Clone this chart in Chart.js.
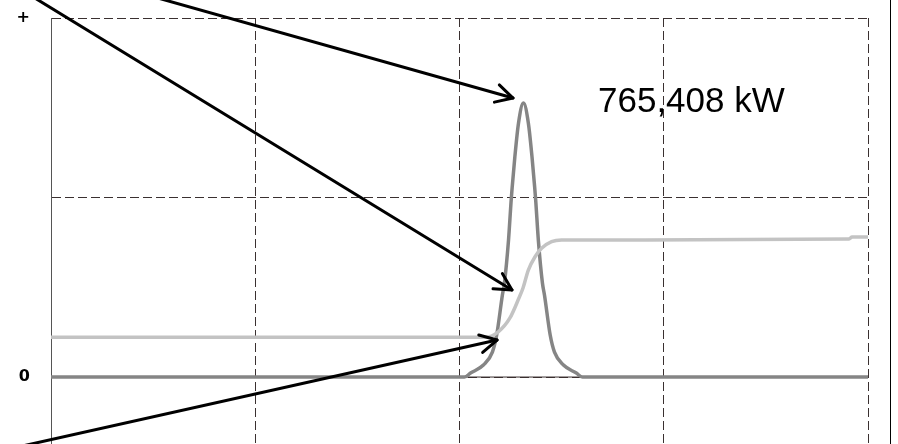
<!DOCTYPE html>
<html>
<head>
<meta charset="utf-8">
<script src="https://cdn.jsdelivr.net/npm/chart.js@4"></script>
<style>
  html, body { margin: 0; padding: 0; background: #fff; }
  #wrap { position: relative; width: 898px; height: 444px; }
</style>
</head>
<body>
<div id="wrap"><canvas id="myChart"></canvas></div>
<script>
// power pulse (dark grey) - baseline, peak, baseline
const pulseX = [0, 2.024, 2.054, 2.117, 2.161, 2.182, 2.210, 2.220, 2.240, 2.253, 2.258, 2.271, 2.289, 2.313,
                2.337, 2.355, 2.368, 2.373, 2.386, 2.406, 2.416, 2.444, 2.465, 2.509, 2.572, 2.602, 4];
const pulseY = [0, 0, 0.022, 0.067, 0.139, 0.234, 0.457, 0.524, 0.763, 0.986, 1.058, 1.226, 1.415, 1.526,
                1.415, 1.226, 1.058, 0.986, 0.763, 0.524, 0.457, 0.234, 0.139, 0.067, 0.022, 0, 0];

// step curve (light grey)
const stepX = [0, 2.125, 2.190, 2.247, 2.291, 2.311, 2.337, 2.370, 2.402, 2.451, 2.500, 3.907, 3.922, 4];
const stepY = [0.222, 0.221, 0.252, 0.329, 0.440, 0.496, 0.596, 0.670, 0.717, 0.754, 0.763, 0.769, 0.780, 0.780];

const zeroX = [0, 4];
const zeroY = [0, 0];

const yTicks = [0, 1, 2];
const yLabels = ["0", "", "+"];

// annotation arrows (data units)
const arrowTipX = [2.262, 2.257, 2.184];
const arrowTipY = [1.554, 0.485, 0.206];
const arrowTailX = [0.240, -0.152, -0.250];
const arrowTailY = [2.202, 2.162, -0.412];

const peakLabel = "765,408 kW";
const labelX = 2.678;
const labelY = 1.478;

const toPts = (xs, ys) => xs.map((v, i) => ({ x: v, y: ys[i] }));

const noPad = (scale) => {
    scale.paddingTop = 0;
    scale.paddingBottom = 0;
    scale.paddingLeft = 0;
    scale.paddingRight = 0;
};

const notes = {
    id: "notes",
    afterDatasetsDraw(chart) {
        const { ctx, scales: { x, y } } = chart;
        ctx.save();
        ctx.strokeStyle = "#000";
        ctx.lineWidth = 3;
        ctx.lineCap = "round";
        ctx.lineJoin = "round";
        arrowTipX.forEach((tx, i) => {
            const x2 = x.getPixelForValue(tx), y2 = y.getPixelForValue(arrowTipY[i]);
            const x1 = x.getPixelForValue(arrowTailX[i]), y1 = y.getPixelForValue(arrowTailY[i]);
            ctx.beginPath();
            ctx.moveTo(x1, y1);
            ctx.lineTo(x2, y2);
            ctx.stroke();
            const a = Math.atan2(y1 - y2, x1 - x2);
            ctx.beginPath();
            ctx.moveTo(x2 + 19 * Math.cos(a - 0.49), y2 + 19 * Math.sin(a - 0.49));
            ctx.lineTo(x2, y2);
            ctx.lineTo(x2 + 19 * Math.cos(a + 0.49), y2 + 19 * Math.sin(a + 0.49));
            ctx.stroke();
        });

        ctx.fillStyle = "#000";
        ctx.font = "35px 'Liberation Sans', Arial, sans-serif";
        ctx.textBaseline = "alphabetic";
        ctx.fillText(peakLabel, x.getPixelForValue(labelX), y.getPixelForValue(labelY));

        // outer frame line on the right
        const rx = Math.round(chart.chartArea.right + 22) + 0.5;
        ctx.lineWidth = 1;
        ctx.beginPath();
        ctx.moveTo(rx, 0);
        ctx.lineTo(rx, chart.height);
        ctx.stroke();
        ctx.restore();
    }
};

const ctx = document.getElementById("myChart").getContext("2d");

const myChart = new Chart(ctx, {
    type: "line",
    data: {
        datasets: [{
            data: toPts(stepX, stepY),
            borderColor: "#c3c3c3",
            borderWidth: 3.5,
        }, {
            data: toPts(pulseX, pulseY),
            borderColor: "#858585",
            borderWidth: 3.5,
        }, {
            data: toPts(zeroX, zeroY),
            borderColor: "#3a3030",
            borderWidth: 1,
        }],
    },
    options: {
        responsive: true,
        maintainAspectRatio: false,
        animation: false,
        layout: { padding: { top: 18, right: 30, left: 0, bottom: 0 } },
        elements: {
            point: { radius: 0 },
            line: { cubicInterpolationMode: "monotone", borderCapStyle: "round", borderJoinStyle: "round" },
        },
        plugins: { legend: { display: false }, tooltip: { enabled: false } },
        scales: {
            x: {
                type: "linear",
                min: 0,
                max: 4,
                ticks: { display: false, stepSize: 1 },
                grid: { color: "#3a3030", lineWidth: 1, drawTicks: false },
                border: { display: false, dash: [9, 4] },
                afterFit(scale) { scale.height = 0; noPad(scale); },
            },
            y: {
                min: -0.373,
                max: 2,
                afterBuildTicks(scale) { scale.ticks = yTicks.map(v => ({ value: v })); },
                ticks: {
                    padding: 21,
                    color: "#000",
                    font: { family: "'DejaVu Sans'", size: 16, weight: "bold" },
                    callback: (v) => yLabels[yTicks.indexOf(v)],
                },
                grid: { color: "#3a3030", lineWidth: 1, drawTicks: false },
                border: { display: true, color: "#555", width: 1, dash: [9, 4] },
                afterFit(scale) { scale.width = 51; noPad(scale); },
            },
        },
    },
    plugins: [notes],
});
</script>
</body>
</html>
